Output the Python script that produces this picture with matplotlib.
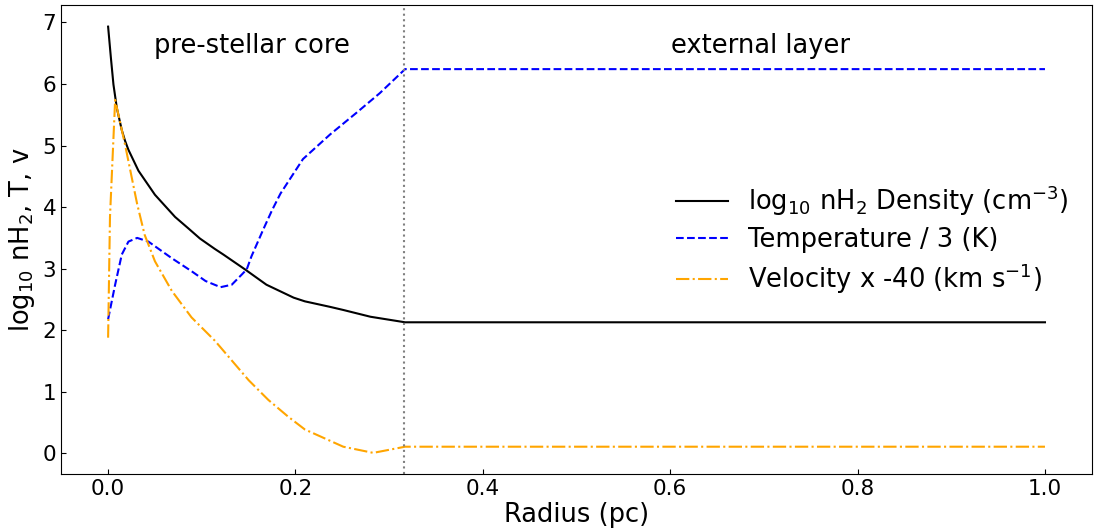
import matplotlib
matplotlib.use("Agg")
import matplotlib.pyplot as plt

# Density (log10 nH2)
dens_r = [0.0, 0.003, 0.0057, 0.0093, 0.0146, 0.018, 0.0217, 0.0324, 0.05, 0.0715, 0.086, 0.098, 0.114, 0.123,
          0.146, 0.169, 0.198, 0.21, 0.237, 0.251, 0.28, 0.317, 0.5, 0.75, 1.0]
dens_v = [6.93, 6.42, 5.99, 5.61, 5.25, 5.08, 4.93, 4.59, 4.2, 3.84, 3.65, 3.49, 3.32, 3.23,
          2.99, 2.74, 2.53, 2.47, 2.38, 2.33, 2.22, 2.13, 2.13, 2.13, 2.13]

# Temperature / 3
temp_r = [0.0, 0.0075, 0.0146, 0.0217, 0.031, 0.043, 0.068, 0.089, 0.104, 0.12, 0.132, 0.143,
          0.148, 0.153, 0.166, 0.175, 0.184, 0.208, 0.237, 0.265, 0.29, 0.317, 0.5, 0.75, 1.0]
temp_v = [2.18, 2.74, 3.23, 3.44, 3.50, 3.44, 3.17, 2.96, 2.80, 2.70, 2.74, 2.91,
          2.99, 3.2, 3.65, 3.95, 4.22, 4.78, 5.18, 5.53, 5.85, 6.24, 6.24, 6.24, 6.24]

# Velocity x -40
vel_r = [0.0, 0.002, 0.0075, 0.018, 0.031, 0.039, 0.05, 0.068, 0.089, 0.114, 0.132, 0.15,
         0.171, 0.192, 0.21, 0.251, 0.283, 0.317, 0.5, 0.75, 1.0]
vel_v = [1.88, 3.84, 5.74, 5.02, 4.05, 3.55, 3.12, 2.64, 2.21, 1.83, 1.51, 1.19,
         0.87, 0.60, 0.39, 0.11, 0.01, 0.11, 0.11, 0.11, 0.11]

boundary = 0.316
labels = [r"log$_{10}$ nH$_2$ Density (cm$^{-3}$)", "Temperature / 3 (K)", r"Velocity x -40 (km s$^{-1}$)"]

fig = plt.figure(figsize=(10.94, 5.31), dpi=100)
ax = fig.add_axes([0.056, 0.107, 0.942, 0.883])
ax.plot(dens_r, dens_v, color="black", lw=1.5, label=labels[0])
ax.plot(temp_r, temp_v, color="blue", ls="--", lw=1.5, label=labels[1])
ax.plot(vel_r, vel_v, color="orange", ls="-.", lw=1.5, label=labels[2])
ax.axvline(boundary, color="gray", ls=":", lw=1.5)

ax.text(0.154, 6.62, "pre-stellar core", ha="center", va="center", fontsize=18.5)
ax.text(0.696, 6.62, "external layer", ha="center", va="center", fontsize=18.5)

ax.set_xlabel("Radius (pc)", fontsize=18.5, labelpad=2)
ax.set_ylabel(r"log$_{10}$ nH$_2$, T, v", fontsize=18.5)
ax.tick_params(labelsize=15.5, direction="in")
ax.legend(loc="center right", frameon=False, fontsize=18.5, bbox_to_anchor=(1.0, 0.5),
          handlelength=2.0, labelspacing=0.35)

fig.savefig("out.png", dpi=100)
